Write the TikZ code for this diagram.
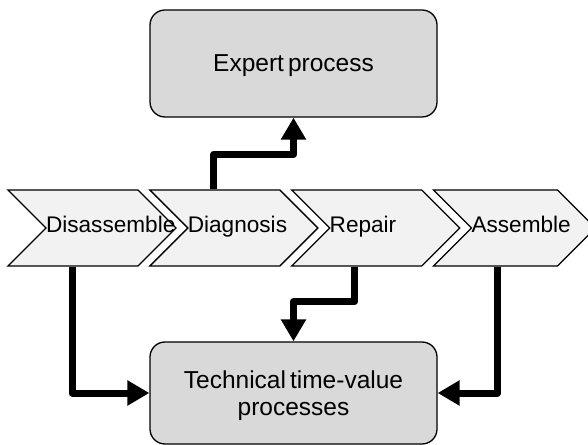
\documentclass[tikz,border=0pt]{standalone}
\usepackage{fontspec}
\setmainfont[WordSpace=0.6]{Liberation Sans}
\usetikzlibrary{shapes.symbols,arrows.meta,positioning}

\definecolor{boxgray}{RGB}{217,217,217}
\definecolor{chevgray}{RGB}{242,242,242}

\begin{document}
\begin{tikzpicture}[x=1pt,y=1pt,>={Triangle[length=22pt,width=24pt]},
            proc node/.style={rectangle,rounded corners=15pt,draw,line width=1.3pt,
                fill=boxgray,align=center,text depth=0pt,
                font=\fontsize{24.5}{27}\selectfont},
            chevron node/.style={signal,signal from=west,signal to=east,
                signal pointer angle=90,draw,line width=1.3pt,fill=chevgray,
                minimum height=76pt,inner sep=0pt,text width=92pt,align=left,
                text height=16pt,text depth=6pt,font=\fontsize{22.6}{26}\selectfont,
                execute at begin node={\hyphenpenalty=10000}},
            flow/.style={->,line width=7pt,line join=round}]
        \useasboundingbox (0,0) rectangle (588,444);

        % Define vertices
        \node[proc node,minimum width=287pt,minimum height=107pt] (expert) at (293.5,380.5) {Expert process};
        \node[chevron node] (dis) at (92,216) {Disassemble};
        \node[chevron node] (diag) [right=10pt of dis] {Diagnosis};
        \node[chevron node] (rep) [right=10pt of diag] {Repair};
        \node[chevron node,text width=86pt] (asm) [right=10pt of rep] {Assemble};
        \node[proc node,minimum width=287pt,minimum height=102pt] (tech) at (293.5,51) {Technical time-value\\processes};

        % Draw edges
        \draw[flow] ([xshift=-20pt]diag.north) -- ++(0,35) -| (expert.south);
        \draw[flow] ([xshift=-20pt]dis.south) |- (tech.west);
        \draw[flow] ([xshift=-21pt]rep.south) -- ++(0,-35) -| (tech.north);
        \draw[flow] ([xshift=-17pt]asm.south) |- (tech.east);

\end{tikzpicture}
\end{document}
